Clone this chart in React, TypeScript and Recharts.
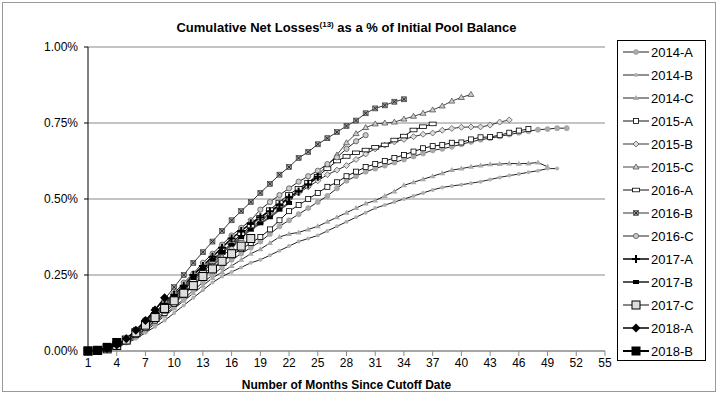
import React from "react";
import { LineChart, Line, XAxis, YAxis, CartesianGrid, Label } from "recharts";

const FONT = "'Liberation Sans', Arial, sans-serif";

const MONTH_TICKS = [1, 4, 7, 10, 13, 16, 19, 22, 25, 28, 31, 34, 37, 40, 43, 46, 49, 52, 55];
const PCT_TICKS = [0, 0.25, 0.5, 0.75, 1];

// cumulative net loss in %, index 0 = month 1
const s2014A = [0, 0.001, 0.005, 0.015, 0.03, 0.05, 0.07, 0.095, 0.12, 0.145, 0.17, 0.2, 0.225, 0.25, 0.275, 0.3, 0.32, 0.34, 0.36, 0.385, 0.41, 0.43, 0.45, 0.47, 0.49, 0.51, 0.535, 0.56, 0.575, 0.59, 0.6, 0.61, 0.62, 0.63, 0.64, 0.65, 0.66, 0.665, 0.672, 0.68, 0.688, 0.695, 0.7, 0.706, 0.712, 0.718, 0.723, 0.728, 0.73, 0.733, 0.733];
const s2014B = [0, 0.001, 0.004, 0.012, 0.025, 0.04, 0.06, 0.08, 0.1, 0.125, 0.15, 0.175, 0.2, 0.225, 0.245, 0.26, 0.275, 0.29, 0.3, 0.315, 0.33, 0.345, 0.36, 0.37, 0.38, 0.395, 0.41, 0.425, 0.44, 0.455, 0.47, 0.48, 0.49, 0.5, 0.51, 0.52, 0.53, 0.538, 0.543, 0.547, 0.552, 0.557, 0.564, 0.571, 0.577, 0.582, 0.588, 0.593, 0.6, 0.6];
const s2014C = [0, 0.001, 0.005, 0.014, 0.028, 0.045, 0.065, 0.09, 0.115, 0.14, 0.165, 0.19, 0.215, 0.24, 0.26, 0.28, 0.3, 0.32, 0.335, 0.355, 0.375, 0.385, 0.39, 0.4, 0.41, 0.425, 0.44, 0.455, 0.47, 0.485, 0.495, 0.51, 0.525, 0.545, 0.555, 0.565, 0.575, 0.585, 0.595, 0.6, 0.606, 0.61, 0.614, 0.615, 0.617, 0.616, 0.617, 0.62, 0.606];
const s2015A = [0, 0.001, 0.006, 0.016, 0.032, 0.052, 0.075, 0.1, 0.125, 0.155, 0.185, 0.215, 0.245, 0.27, 0.295, 0.315, 0.335, 0.355, 0.375, 0.4, 0.43, 0.46, 0.48, 0.5, 0.52, 0.54, 0.555, 0.575, 0.59, 0.605, 0.615, 0.625, 0.635, 0.645, 0.656, 0.667, 0.674, 0.678, 0.685, 0.686, 0.696, 0.703, 0.704, 0.71, 0.718, 0.725, 0.73];
const s2015B = [0, 0.002, 0.007, 0.018, 0.035, 0.058, 0.083, 0.11, 0.14, 0.17, 0.2, 0.23, 0.26, 0.29, 0.32, 0.35, 0.38, 0.405, 0.43, 0.455, 0.48, 0.5, 0.52, 0.54, 0.56, 0.58, 0.595, 0.61, 0.63, 0.648, 0.665, 0.677, 0.688, 0.696, 0.705, 0.713, 0.717, 0.726, 0.732, 0.736, 0.737, 0.737, 0.743, 0.753, 0.76];
const s2015C = [0, 0.002, 0.007, 0.018, 0.035, 0.057, 0.08, 0.105, 0.13, 0.16, 0.19, 0.22, 0.25, 0.28, 0.31, 0.34, 0.37, 0.4, 0.425, 0.45, 0.48, 0.505, 0.53, 0.555, 0.58, 0.61, 0.645, 0.685, 0.715, 0.735, 0.747, 0.75, 0.753, 0.763, 0.772, 0.782, 0.793, 0.806, 0.822, 0.834, 0.844];
const s2016A = [0, 0.002, 0.007, 0.018, 0.036, 0.06, 0.087, 0.115, 0.145, 0.175, 0.205, 0.235, 0.265, 0.295, 0.325, 0.355, 0.385, 0.41, 0.44, 0.465, 0.49, 0.515, 0.535, 0.555, 0.575, 0.6, 0.625, 0.64, 0.652, 0.661, 0.67, 0.678, 0.694, 0.707, 0.727, 0.738, 0.747];
const s2016B = [0, 0.002, 0.008, 0.02, 0.04, 0.07, 0.1, 0.135, 0.17, 0.21, 0.25, 0.29, 0.325, 0.36, 0.395, 0.43, 0.46, 0.49, 0.52, 0.55, 0.58, 0.605, 0.635, 0.655, 0.68, 0.7, 0.72, 0.74, 0.758, 0.782, 0.798, 0.808, 0.82, 0.828];
const s2016C = [0, 0.002, 0.008, 0.02, 0.04, 0.065, 0.095, 0.125, 0.16, 0.19, 0.225, 0.255, 0.29, 0.32, 0.35, 0.38, 0.405, 0.43, 0.465, 0.49, 0.513, 0.535, 0.557, 0.575, 0.593, 0.615, 0.637, 0.665, 0.69, 0.71];
const s2017A = [0, 0.002, 0.008, 0.02, 0.04, 0.066, 0.095, 0.125, 0.155, 0.185, 0.215, 0.25, 0.28, 0.31, 0.34, 0.37, 0.395, 0.42, 0.44, 0.46, 0.48, 0.505, 0.525, 0.548, 0.573];
const s2017B = [0, 0.002, 0.008, 0.02, 0.04, 0.065, 0.093, 0.122, 0.152, 0.18, 0.21, 0.24, 0.27, 0.3, 0.325, 0.35, 0.375, 0.4, 0.42, 0.44, 0.465, 0.487];
const s2017C = [0, 0.002, 0.007, 0.018, 0.036, 0.06, 0.085, 0.11, 0.14, 0.165, 0.19, 0.215, 0.245, 0.27, 0.295, 0.32, 0.345, 0.37];
const s2018A = [0, 0.002, 0.008, 0.02, 0.04, 0.068, 0.1, 0.135, 0.175];
const s2018B = [0, 0.002, 0.012, 0.028];

const SERIES_NAMES = ["2014-A", "2014-B", "2014-C", "2015-A", "2015-B", "2015-C", "2016-A", "2016-B", "2016-C", "2017-A", "2017-B", "2017-C", "2018-A", "2018-B"];
const SERIES_DATA = [s2014A, s2014B, s2014C, s2015A, s2015B, s2015C, s2016A, s2016B, s2016C, s2017A, s2017B, s2017C, s2018A, s2018B];

type MarkerKind =
  | "grayCircle" | "grayDot" | "grayTri" | "smallSquare" | "diamond" | "tri"
  | "flatRect" | "xBox" | "ringCircle" | "plus" | "blackRect" | "bigSquare"
  | "blackDiamond" | "blackSquare";

const STYLES: { marker: MarkerKind; stroke: string; width: number }[] = [
  { marker: "grayCircle", stroke: "#222", width: 1 },
  { marker: "grayDot", stroke: "#222", width: 1 },
  { marker: "grayTri", stroke: "#222", width: 1 },
  { marker: "smallSquare", stroke: "#111", width: 1 },
  { marker: "diamond", stroke: "#333", width: 1 },
  { marker: "tri", stroke: "#444", width: 1 },
  { marker: "flatRect", stroke: "#111", width: 1 },
  { marker: "xBox", stroke: "#333", width: 1 },
  { marker: "ringCircle", stroke: "#222", width: 1 },
  { marker: "plus", stroke: "#000", width: 1.5 },
  { marker: "blackRect", stroke: "#555", width: 2 },
  { marker: "bigSquare", stroke: "#111", width: 1 },
  { marker: "blackDiamond", stroke: "#000", width: 1.5 },
  { marker: "blackSquare", stroke: "#000", width: 2 },
];

const rows = Array.from({ length: 55 }, (_, i) => {
  const row: Record<string, number | undefined> = { month: i + 1 };
  SERIES_NAMES.forEach((name, s) => {
    row[name] = i < SERIES_DATA[s].length ? SERIES_DATA[s][i] : undefined;
  });
  return row;
});

function marker(kind: MarkerKind, x: number, y: number, key?: string) {
  switch (kind) {
    case "grayCircle":
      return <circle key={key} cx={x} cy={y} r={2.6} fill="#aaa" stroke="#999" strokeWidth={0.5} />;
    case "grayDot":
      return <circle key={key} cx={x} cy={y} r={2} fill="#b0b0b0" />;
    case "grayTri":
      return <path key={key} d={`M${x},${y - 3}L${x + 3},${y + 2}L${x - 3},${y + 2}Z`} fill="#aaa" />;
    case "smallSquare":
      return <rect key={key} x={x - 2.5} y={y - 2.5} width={5} height={5} fill="#fff" stroke="#000" strokeWidth={0.8} />;
    case "diamond":
      return <path key={key} d={`M${x},${y - 3}L${x + 3},${y}L${x},${y + 3}L${x - 3},${y}Z`} fill="#ddd" stroke="#444" strokeWidth={0.7} />;
    case "tri":
      return <path key={key} d={`M${x},${y - 3}L${x + 3},${y + 2}L${x - 3},${y + 2}Z`} fill="#ccc" stroke="#444" strokeWidth={0.7} />;
    case "flatRect":
      return <rect key={key} x={x - 3.5} y={y - 1.8} width={7} height={3.6} fill="#fff" stroke="#000" strokeWidth={0.8} />;
    case "xBox":
      return (
        <g key={key}>
          <rect x={x - 2.5} y={y - 2.5} width={5} height={5} fill="#999" stroke="#333" strokeWidth={0.6} />
          <path d={`M${x - 2},${y - 2}L${x + 2},${y + 2}M${x + 2},${y - 2}L${x - 2},${y + 2}`} stroke="#111" strokeWidth={0.8} />
        </g>
      );
    case "ringCircle":
      return <circle key={key} cx={x} cy={y} r={2.6} fill="#ccc" stroke="#555" strokeWidth={0.8} />;
    case "plus":
      return <path key={key} d={`M${x - 4},${y}L${x + 4},${y}M${x},${y - 4}L${x},${y + 4}`} stroke="#000" strokeWidth={2} />;
    case "blackRect":
      return <rect key={key} x={x - 3} y={y - 2} width={6} height={4} fill="#000" />;
    case "bigSquare":
      return <rect key={key} x={x - 4} y={y - 4} width={8} height={8} fill="#ddd" stroke="#000" strokeWidth={1} />;
    case "blackDiamond":
      return <path key={key} d={`M${x},${y - 4.5}L${x + 4.5},${y}L${x},${y + 4.5}L${x - 4.5},${y}Z`} fill="#000" />;
    case "blackSquare":
      return <rect key={key} x={x - 4.5} y={y - 4.5} width={9} height={9} fill="#000" />;
  }
}

function LegendBox() {
  return (
    <div
      style={{
        position: "absolute",
        left: 617,
        top: 40,
        width: 89,
        height: 321,
        border: "1px solid #000",
        background: "#fff",
        boxSizing: "border-box",
      }}
    >
      {SERIES_NAMES.map((name, i) => (
        <div
          key={name}
          style={{ position: "absolute", left: 4, top: 3 + i * 23, height: 16, display: "flex", alignItems: "center" }}
        >
          <svg width={28} height={16} style={{ display: "block" }}>
            <line x1={1} y1={8} x2={27} y2={8} stroke={STYLES[i].stroke} strokeWidth={STYLES[i].width} />
            {marker(STYLES[i].marker, 14, 8)}
          </svg>
          <span style={{ fontFamily: FONT, fontSize: 13, color: "#000", marginLeft: 1 }}>{name}</span>
        </div>
      ))}
    </div>
  );
}

export default function App() {
  return (
    <div style={{ position: "absolute", left: 0, top: 0, width: 720, height: 405, background: "#fff" }}>
      <div
        style={{
          position: "absolute",
          left: 2,
          top: 2,
          width: 714,
          height: 390,
          border: "1px solid #999",
          boxSizing: "border-box",
        }}
      />
      <div
        style={{
          position: "absolute",
          left: 88,
          width: 517,
          top: 20,
          textAlign: "center",
          fontFamily: FONT,
          fontWeight: "bold",
          fontSize: 13,
          color: "#000",
          whiteSpace: "nowrap",
        }}
      >
        Cumulative Net Losses<sup style={{ fontSize: 8 }}>(13)</sup> as a % of Initial Pool Balance
      </div>
      <LineChart
        width={720}
        height={405}
        data={rows}
        margin={{ top: 47, right: 115, bottom: 0, left: 0 }}
        style={{ position: "absolute", left: 0, top: 0 }}
      >
        <CartesianGrid horizontal vertical={false} stroke="#8a8a8a" horizontalValues={PCT_TICKS} />
        <XAxis
          dataKey="month"
          type="number"
          domain={[1, 55]}
          ticks={MONTH_TICKS}
          interval={0}
          height={54}
          tickSize={5}
          axisLine={{ stroke: "#888" }}
          tickLine={{ stroke: "#888" }}
          tick={{ fill: "#000", fontSize: 12, fontFamily: FONT }}
        >
          <Label
            value="Number of Months Since Cutoff Date"
            position="insideBottom"
            offset={16}
            style={{ fontFamily: FONT, fontWeight: "bold", fontSize: 12, fill: "#000" }}
          />
        </XAxis>
        <YAxis
          type="number"
          domain={[0, 1]}
          ticks={PCT_TICKS}
          width={88}
          tickSize={4}
          tickMargin={6}
          axisLine={{ stroke: "#000" }}
          tickLine={{ stroke: "#000" }}
          tick={{ fill: "#000", fontSize: 12, fontFamily: FONT }}
          tickFormatter={(v: number) => `${v.toFixed(2)}%`}
        />
        {SERIES_NAMES.map((name, i) => (
          <Line
            key={name}
            dataKey={name}
            type="linear"
            stroke={STYLES[i].stroke}
            strokeWidth={STYLES[i].width}
            isAnimationActive={false}
            connectNulls={false}
            activeDot={false}
            dot={(p: any) =>
              p.cx == null || p.cy == null || p.value == null
                ? <g key={`${name}-${p.index}`} />
                : marker(STYLES[i].marker, p.cx, p.cy, `${name}-${p.index}`)
            }
          />
        ))}
      </LineChart>
      <LegendBox />
    </div>
  );
}
